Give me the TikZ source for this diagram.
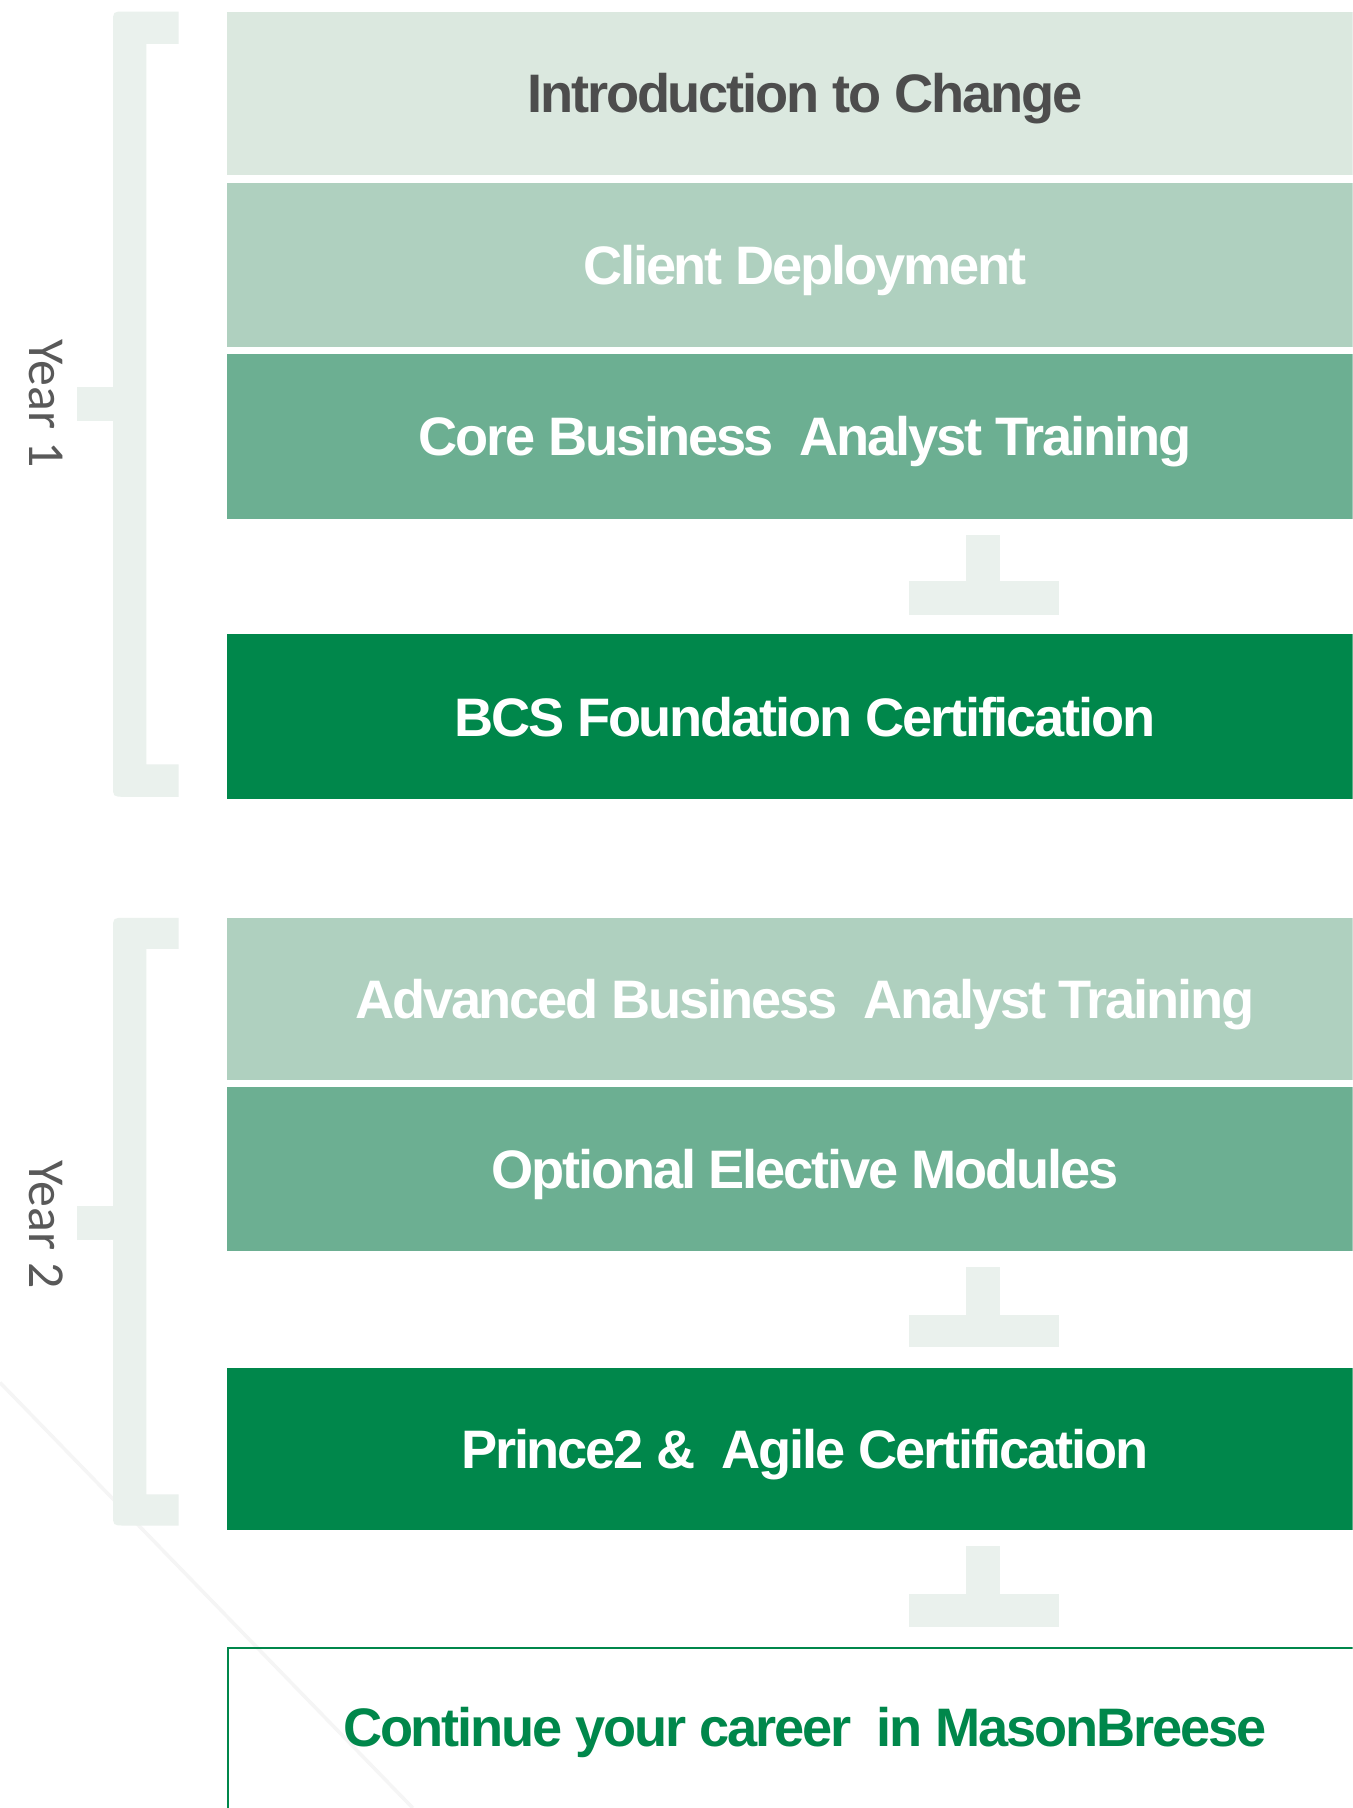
\documentclass[tikz,border=0pt]{standalone}
\usepackage{fontspec}
\setmainfont{Liberation Sans}
\newfontfamily\stagefont[LetterSpace=-4.0]{Liberation Sans}
\newfontfamily\yearfont{Carlito}
\definecolor{cIntro}{HTML}{DBE8DF}
\definecolor{cLight}{HTML}{AFD0BF}
\definecolor{cMid}{HTML}{6CAF92}
\definecolor{cDark}{HTML}{00874B}
\definecolor{cBrk}{HTML}{EAF1ED}
\definecolor{cText}{HTML}{4D4D4D}
\definecolor{cYear}{HTML}{595959}
\begin{document}
\begin{tikzpicture}[x=0.5pt,y=-0.5pt,
  stage/.style={rectangle, inner sep=0pt, minimum width=501pt,
    font=\stagefont\bfseries\fontsize{23.5}{23.5}\selectfont, text height=16.8pt, text depth=0pt, text=white},
  brk/.style={fill=cBrk},
  yearlabel/.style={rotate=-90, inner sep=0pt, text=cYear, font=\yearfont\fontsize{22.5}{22.5}\selectfont},
  faint/.style={draw=black!4, line width=1.5}]
\clip (0,0) rectangle (1173,1568);
\fill[white] (0,0) rectangle (1173,1568);
% faint background line
\draw[faint] (0,1199) -- (358,1568);

% Year 1 bracket
\fill[brk] (155,10) -- (108,10) .. controls (98,10) .. (98,20) -- (98,681)
  .. controls (98,691) .. (108,691) -- (155,691) -- (155,663) -- (127,663)
  -- (127,38) -- (155,38) -- cycle;
\fill[brk] (67,336) rectangle (99,365);
\node[yearlabel] (y1) at (40,350) {Year 1};

% Year 2 bracket
\fill[brk] (155,796) -- (108,796) .. controls (98,796) .. (98,806) -- (98,1313)
  .. controls (98,1323) .. (108,1323) -- (155,1323) -- (155,1296) -- (127,1296)
  -- (127,823) -- (155,823) -- cycle;
\fill[brk] (67,1046) rectangle (99,1075);
\node[yearlabel] (y2) at (40,1062) {Year 2};

% Stages
\node[stage, fill=cIntro, text=cText, minimum height=71pt] (intro) at (698,81) {Introduction to Change};
\node[stage, fill=cLight, minimum height=71pt] (client) at (698,230) {Client Deployment};
\node[stage, fill=cMid, minimum height=71.5pt] (core) at (698,378.5) {Core Business\ \ Analyst Training};
\node[stage, fill=cDark, minimum height=71.5pt] (bcs) at (698,621.5) {BCS Foundation Certification};
\node[stage, fill=cLight, minimum height=70.5pt] (adv) at (698,866.5) {Advanced Business\ \ Analyst Training};
\node[stage, fill=cMid, minimum height=71pt] (opt) at (698,1014) {Optional Elective Modules};
\node[stage, fill=cDark, minimum height=70.5pt] (prince) at (698,1256.5) {Prince2 \&\ \ Agile Certification};

% T markers between stages
\fill[brk] (838,464) rectangle (867,505);
\fill[brk] (788,504) rectangle (918,533);
\fill[brk] (838,1099) rectangle (867,1141);
\fill[brk] (788,1140) rectangle (918,1168);
\fill[brk] (838,1341) rectangle (867,1383);
\fill[brk] (788,1382) rectangle (918,1411);

% Final box
\draw[cDark, line width=1pt] (197.5,1700) -- (197.5,1429.5) -- (1199,1429.5);
\node[stage, text=cDark, minimum width=0pt] (final) at (698,1498) {Continue your career\ \ in MasonBreese};
\end{tikzpicture}
\end{document}
